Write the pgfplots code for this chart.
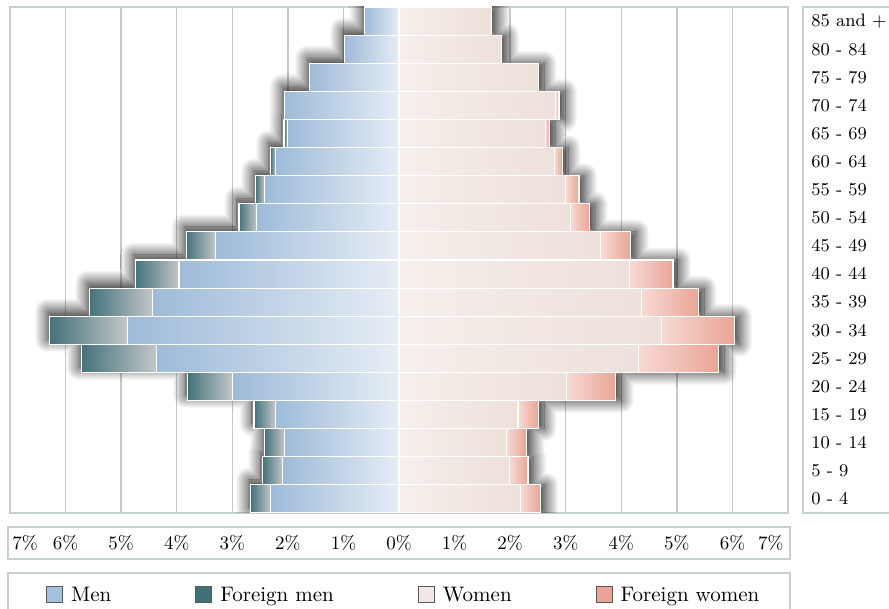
\documentclass[border=0pt]{standalone}
\usepackage{pgfplots}
\pgfplotsset{compat=1.18}
\usepackage{pgfplotstable}
\usetikzlibrary{shadows.blur}

\definecolor{frame}{HTML}{C6D0CC}
\definecolor{gridc}{HTML}{C9C9C9}
\definecolor{menout}{HTML}{9EBBD9}
\definecolor{menin}{HTML}{E6EDF5}
\definecolor{fmenout}{HTML}{44727B}
\definecolor{fmenin}{HTML}{C3C6C9}
\definecolor{womin}{HTML}{F6EFEB}
\definecolor{womout}{HTML}{EEE0DA}
\definecolor{fwomin}{HTML}{F7DAD4}
\definecolor{fwomout}{HTML}{EAA495}
\definecolor{menkey}{HTML}{A3C0DD}
\definecolor{fmenkey}{HTML}{3F7278}
\definecolor{womkey}{HTML}{F3E7E3}
\definecolor{fwomkey}{HTML}{EBA497}

% share of the total population (%) by five-year age group,
% y = 0 is 0-4, y = 17 is 85 and +
\pgfplotstableread{
y  men   fmen  women fwomen
0  2.31  0.36  2.19  0.35
1  2.09  0.36  1.99  0.33
2  2.06  0.36  1.94  0.35
3  2.22  0.39  2.14  0.37
4  3.00  0.80  3.02  0.88
5  4.37  1.35  4.31  1.44
6  4.89  1.40  4.73  1.30
7  4.44  1.13  4.37  1.02
8  3.96  0.78  4.15  0.78
9  3.30  0.53  3.63  0.54
10 2.56  0.32  3.08  0.35
11 2.42  0.16  3.00  0.24
12 2.22  0.09  2.80  0.14
13 2.00  0.07  2.63  0.08
14 2.06  0.00  2.82  0.06
15 1.61  0.00  2.51  0.00
16 0.98  0.00  1.84  0.00
17 0.62  0.00  1.66  0.00
}\pyramid

\pgfplotsset{
  pyr/.style={
    at={(5pt,-3.5pt)}, anchor=north west,
    width=389pt, height=253pt, scale only axis,
    xmin=-7, xmax=7, ymin=-0.5, ymax=17.5,
  },
  barstyle/.style={draw=white, line width=0.6pt},
  shadowL/.style={blur shadow={shadow xshift=-1pt, shadow yshift=2.5pt,
      shadow blur radius=6.5pt, shadow blur steps=24, shadow opacity=90}},
  shadowR/.style={blur shadow={shadow xshift=2.8pt, shadow yshift=0pt,
      shadow blur radius=6.5pt, shadow blur steps=24, shadow opacity=90}},
}

\begin{document}
\begin{tikzpicture}
% frame, grid, labels, legend and the shadows under the bars
\begin{axis}[pyr,
  axis line style={frame, line width=1pt},
  xtick={-6,...,6},
  xticklabels={6\%,5\%,4\%,3\%,2\%,1\%,0\%,1\%,2\%,3\%,4\%,5\%,6\%},
  extra x ticks={-6.73,6.69},
  extra x tick labels={7\%,7\%},
  extra x tick style={grid=none},
  xmajorgrids,
  major grid style={gridc, line width=0.75pt},
  major tick length=0pt,
  xticklabel style={anchor=center, yshift=-14.75pt,
    font=\fontsize{9.5}{11}\selectfont},
  ytick={0,...,17},
  yticklabels={0 - 4,5 - 9,10 - 14,15 - 19,20 - 24,25 - 29,30 - 34,35 - 39,
    40 - 44,45 - 49,50 - 54,55 - 59,60 - 64,65 - 69,70 - 74,75 - 79,80 - 84,
    85 and +},
  yticklabel pos=right,
  yticklabel style={anchor=west, xshift=11.5pt, inner sep=0pt,
    font=\fontsize{9}{11}\selectfont},
  legend columns=4,
  legend image code/.code={\draw[#1, draw=black!65, line width=0.5pt]
    (0pt,-0.4pt) rectangle (8pt,7.6pt);},
  legend style={at={(axis description cs:0.0458,-0.1627)}, anchor=west,
    draw=none, fill=none, inner sep=0pt,
    nodes={inner sep=0pt, anchor=base west},
    font=\fontsize{10.5}{12}\selectfont,
    /tikz/every odd column/.append style={column sep=4pt},
    /tikz/every even column/.append style={column sep=42pt}},
]
\addlegendimage{fill=menkey}\addlegendentry{Men}
\addlegendimage{fill=fmenkey}\addlegendentry{Foreign men}
\addlegendimage{fill=womkey}\addlegendentry{Women}
\addlegendimage{fill=fwomkey}\addlegendentry{Foreign women}

\addplot[forget plot, xbar, bar width=1, bar shift=0pt, draw=none, fill=white, shadowL]
  table[x expr=-\thisrow{men}-\thisrow{fmen}, y=y] {\pyramid};
\addplot[forget plot, xbar, bar width=1, bar shift=0pt, draw=none, fill=white, shadowR]
  table[x expr=\thisrow{women}+\thisrow{fwomen}, y=y] {\pyramid};
\end{axis}

% one row at a time, so that every bar gets its own gradient:
% nationals first, foreigners stacked outward
\pgfplotsinvokeforeach{0,...,17}{
  \pgfplotstablegetelem{#1}{fmen}\of\pyramid
  \pgfmathtruncatemacro\hasfmen{\pgfplotsretval>0}
  \pgfplotstablegetelem{#1}{fwomen}\of\pyramid
  \pgfmathtruncatemacro\hasfwomen{\pgfplotsretval>0}
  \begin{axis}[pyr, hide axis, xbar stacked, bar width=1,
      restrict y to domain=#1:#1]
  \addplot[barstyle, left color=menout, right color=menin]
    table[x expr=-\thisrow{men}, y=y] {\pyramid};
  \ifnum\hasfmen=1
  \addplot[barstyle, left color=fmenout, right color=fmenin]
    table[x expr=-\thisrow{fmen}, y=y] {\pyramid};
  \fi
  \end{axis}
  \begin{axis}[pyr, hide axis, xbar stacked, bar width=1,
      restrict y to domain=#1:#1]
  \addplot[barstyle, left color=womin, right color=womout]
    table[x=women, y=y] {\pyramid};
  \ifnum\hasfwomen=1
  \addplot[barstyle, left color=fwomin, right color=fwomout]
    table[x=fwomen, y=y] {\pyramid};
  \fi
  \end{axis}
}

% boxes around the age groups, the scale and the key
\draw[frame, line width=1pt] (401.5pt,-3.5pt) rectangle (446pt,-256.5pt);
\draw[frame, line width=1pt] (4pt,-263.5pt) rectangle (395pt,-279.3pt);
\draw[frame, line width=1pt] (4pt,-286.3pt) rectangle (395pt,-307pt);

\pgfresetboundingbox
\useasboundingbox (0pt,0pt) rectangle (444.5pt,-304.5pt);
\end{tikzpicture}
\end{document}
